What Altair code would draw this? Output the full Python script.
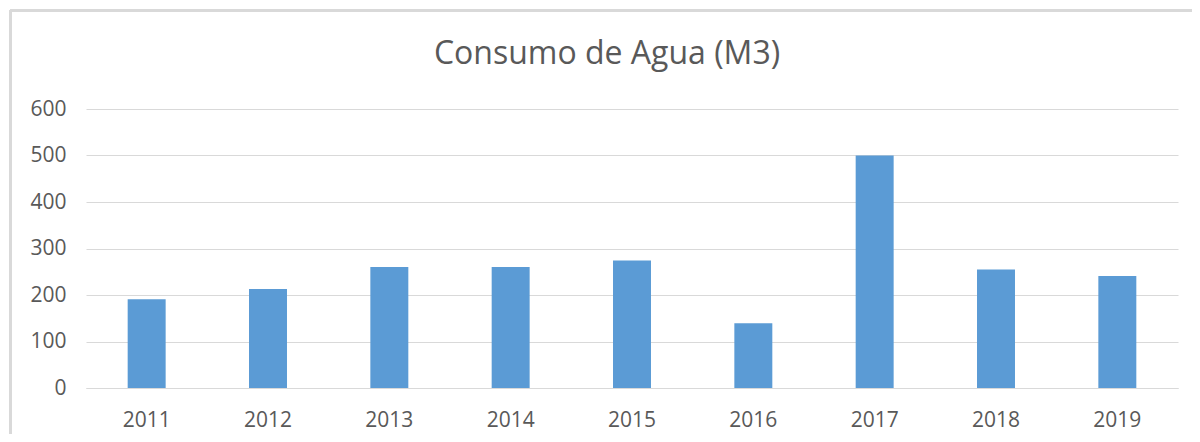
import altair as alt
import pandas as pd

years = ["2011", "2012", "2013", "2014", "2015", "2016", "2017", "2018", "2019"]
consumo = [191, 213, 260, 260, 274, 139, 500, 255, 241]
y_ticks = [0, 100, 200, 300, 400, 500, 600]
title_text = "Consumo de Agua (M3)"

df = pd.DataFrame({"year": years, "value": consumo})
title_df = pd.DataFrame({"t": [title_text]})

FONT = "Open Sans"
GREY = "#595959"
LINE = "#d9d9d9"

bars = alt.Chart(df).mark_bar(color="#5B9BD5").encode(
    x=alt.X(
        "year:N",
        sort=years,
        title=None,
        scale=alt.Scale(paddingInner=0.687, paddingOuter=0.3435),
        axis=alt.Axis(
            labelAngle=0,
            labelFont=FONT,
            labelFontSize=21,
            labelColor=GREY,
            labelPadding=21,
            ticks=False,
            grid=False,
            domainColor=LINE,
            domainWidth=1,
        ),
    ),
    y=alt.Y(
        "value:Q",
        title=None,
        scale=alt.Scale(domain=[0, 600], nice=False),
        axis=alt.Axis(
            values=y_ticks,
            labelFont=FONT,
            labelFontSize=21,
            labelColor=GREY,
            labelPadding=20,
            ticks=False,
            domain=False,
            gridColor=LINE,
            gridWidth=1,
        ),
    ),
)

title = alt.Chart(title_df).mark_text(
    font=FONT, fontSize=32, color=GREY, align="center", baseline="alphabetic"
).encode(text="t:N", x=alt.value(521), y=alt.value(-45))

border_left = alt.Chart(df).mark_rule(color=LINE, strokeWidth=2.5).encode(
    x=alt.value(-75.5), y=alt.value(-98.5), y2=alt.value(330)
)
border_top = alt.Chart(df).mark_rule(color=LINE, strokeWidth=2.5).encode(
    x=alt.value(-75.5), x2=alt.value(1120), y=alt.value(-98.5)
)

chart = alt.layer(bars, title, border_left, border_top).properties(
    width=1092,
    height=279,
    padding={"left": 78, "top": 101, "right": 14, "bottom": 46},
    autosize=alt.AutoSizeParams(type="none"),
    background="white",
).configure_view(stroke="transparent", strokeWidth=0)

chart.save("out.html", embed_options={"renderer": "svg", "actions": False})
